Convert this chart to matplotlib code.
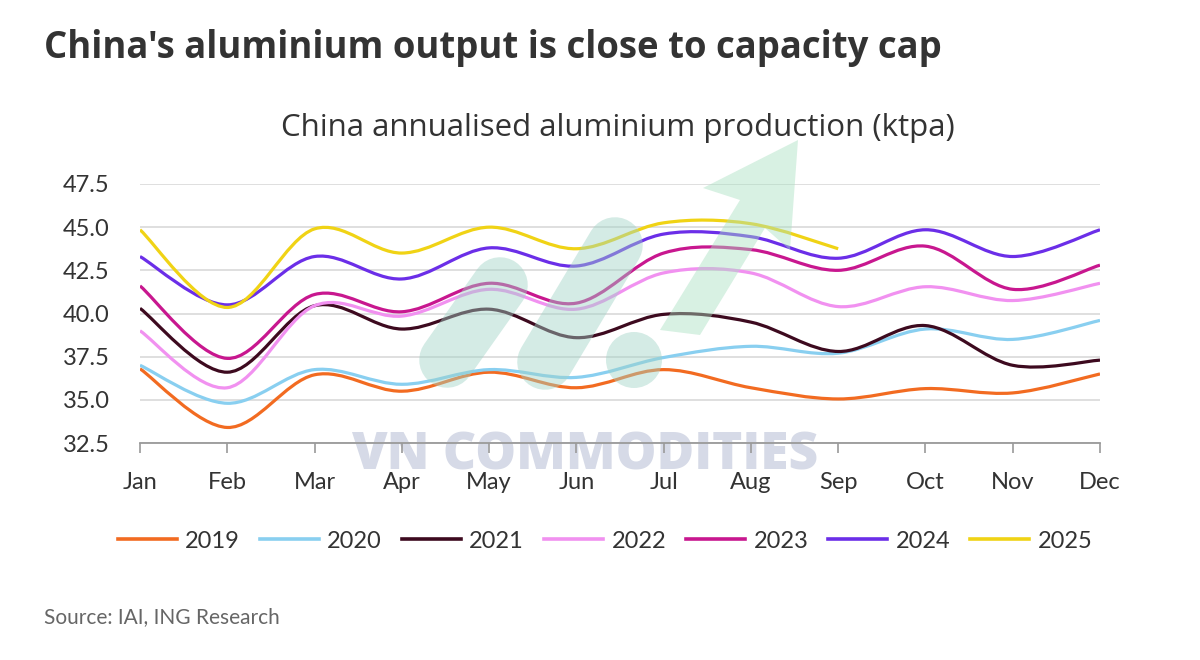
import numpy as np
import matplotlib.pyplot as plt
from matplotlib.path import Path
from matplotlib.patches import PathPatch, Circle, Polygon
from matplotlib.lines import Line2D

plt.rcParams['font.family'] = ['Lato', 'DejaVu Sans']

months = ['Jan', 'Feb', 'Mar', 'Apr', 'May', 'Jun', 'Jul', 'Aug', 'Sep', 'Oct', 'Nov', 'Dec']
years = ['2019', '2020', '2021', '2022', '2023', '2024', '2025']
colors = ['#f26b21', '#89cff0', '#3d0a1f', '#f191f0', '#c8178f', '#6b2ee8', '#f0d315']

v2019 = [36.8, 33.4, 36.45, 35.5, 36.6, 35.7, 36.75, 35.7, 35.05, 35.65, 35.4, 36.5]
v2020 = [37.0, 34.8, 36.75, 35.9, 36.75, 36.3, 37.45, 38.1, 37.7, 39.1, 38.5, 39.6]
v2021 = [40.3, 36.6, 40.45, 39.1, 40.25, 38.6, 39.95, 39.5, 37.8, 39.3, 37.0, 37.3]
v2022 = [39.0, 35.7, 40.45, 39.85, 41.4, 40.25, 42.35, 42.35, 40.4, 41.55, 40.75, 41.75]
v2023 = [41.6, 37.4, 41.1, 40.1, 41.75, 40.6, 43.5, 43.7, 42.5, 43.9, 41.4, 42.8]
v2024 = [43.3, 40.5, 43.3, 42.0, 43.8, 42.75, 44.6, 44.45, 43.2, 44.85, 43.3, 44.85]
v2025 = [44.85, 40.35, 44.9, 43.5, 45.0, 43.75, 45.25, 45.2, 43.75]
series = [v2019, v2020, v2021, v2022, v2023, v2024, v2025]

yticks = [32.5, 35.0, 37.5, 40.0, 42.5, 45.0, 47.5]


def smooth_path(vals):
    # bezier through the monthly points (catmull-rom style, like excel smoothing)
    pts = [(float(i), float(v)) for i, v in enumerate(vals)]
    verts = [pts[0]]
    codes = [Path.MOVETO]
    n = len(pts)
    for i in range(n - 1):
        p0 = pts[i - 1] if i > 0 else pts[i]
        p1 = pts[i]
        p2 = pts[i + 1]
        p3 = pts[i + 2] if i + 2 < n else pts[i + 1]
        c1 = (p1[0] + (p2[0] - p0[0]) / 6, p1[1] + (p2[1] - p0[1]) / 6)
        c2 = (p2[0] - (p3[0] - p1[0]) / 6, p2[1] - (p3[1] - p1[1]) / 6)
        verts += [c1, c2, p2]
        codes += [Path.CURVE4] * 3
    return Path(verts, codes)


fig = plt.figure(figsize=(12, 6.6), dpi=100)
ax = fig.add_axes([140 / 1200, 1 - 443 / 660, 960 / 1200, 259 / 660])
ax.patch.set_alpha(0)

# watermark logo, faint and see-through, pixel coords from top-left
wm = fig.dpi_scale_trans
def px(x, y):
    return (x / 100, (660 - y) / 100)
bar_col, arr_col, a = '#a0d3c6', '#a9e0c1', 0.45
for (x0, y0), (x1, y1) in [((447, 360), (500, 285)), ((545, 362), (615, 245))]:
    ax.add_artist(Line2D([px(x0, y0)[0], px(x1, y1)[0]], [px(x0, y0)[1], px(x1, y1)[1]],
                         transform=wm, lw=40, color=bar_col, alpha=a, solid_capstyle='round',
                         zorder=4, clip_on=False))
ax.add_artist(Circle(px(634, 360), 0.28, transform=wm, color=bar_col, alpha=a, zorder=4,
                     clip_on=False, lw=0))
arrow = [px(660, 330), px(740, 200), px(703, 188), px(798, 140), px(790, 250), px(765, 228),
         px(700, 335)]
ax.add_artist(Polygon(arrow, closed=True, transform=wm, color=arr_col, alpha=a, zorder=4, lw=0,
                      clip_on=False))
fig.text(585 / 1200, 1 - 456 / 660, 'VN COMMODITIES', ha='center', va='center',
         fontsize=37, fontweight='heavy', color='#d6dae7', zorder=-1,
         family=['Open Sans', 'DejaVu Sans'])

for vals, c, yr in zip(series, colors, years):
    ax.add_patch(PathPatch(smooth_path(vals), facecolor='none', edgecolor=c, lw=2.3,
                           capstyle='butt', zorder=3))

ax.set_xlim(0, 11)
ax.set_ylim(32.5, 47.5)
ax.set_xticks(range(12))
ax.set_xticklabels(months)
ax.set_yticks(yticks)
ax.set_yticklabels(['%.1f' % t for t in yticks])
ax.grid(axis='y', color='#dcdcdc', lw=1.3)
ax.set_axisbelow(True)
for s in ['top', 'right', 'left']:
    ax.spines[s].set_visible(False)
ax.spines['bottom'].set_color('#9a9a9a')
ax.spines['bottom'].set_linewidth(1.3)
ax.tick_params(axis='x', colors='#9a9a9a', length=7, width=1.2, labelcolor='#333333',
               labelsize=17, pad=14)
ax.tick_params(axis='y', length=0, labelcolor='#333333', labelsize=17, pad=22)

handles = [Line2D([], [], color=c, lw=2.6) for c in colors]
fig.legend(handles, years, loc='center', bbox_to_anchor=(605 / 1200, 1 - 541 / 660), ncol=7,
           frameon=False, fontsize=17, handlelength=2.5, handletextpad=0.35, columnspacing=0.85,
           labelcolor='#333333')

fig.text(44 / 1200, 1 - 48 / 660, "China's aluminium output is close to capacity cap", ha='left',
         va='center', fontsize=26.3, fontweight='bold', color='#333333',
         family=['Open Sans', 'DejaVu Sans'])
fig.text(618 / 1200, 1 - 128 / 660, 'China annualised aluminium production (ktpa)', ha='center',
         va='center', fontsize=22.5, color='#333333', family=['Open Sans', 'DejaVu Sans'])
fig.text(44 / 1200, 1 - 617 / 660, 'Source: IAI, ING Research', ha='left', va='center',
         fontsize=15, color='#666666')

fig.savefig('out.png', dpi=100)
